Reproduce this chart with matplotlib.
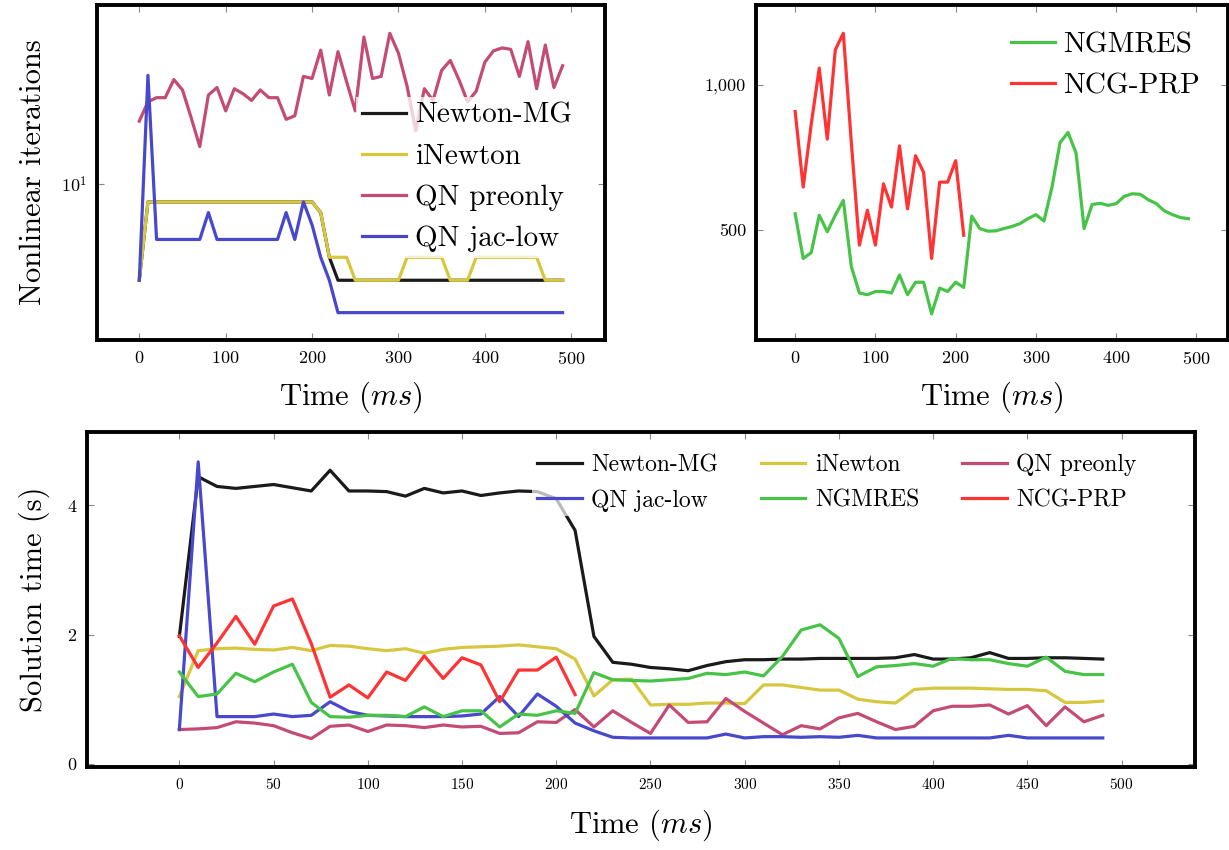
import matplotlib
matplotlib.use('Agg')
import matplotlib.pyplot as plt
import numpy as np

plt.rcParams['font.family'] = 'cmr10'
plt.rcParams['mathtext.fontset'] = 'cm'
plt.rcParams['axes.formatter.use_mathtext'] = True
plt.rcParams['axes.unicode_minus'] = False

# time stamps (ms)
t = list(range(0, 500, 10))

# --- nonlinear iterations (top left, log scale)
it_newton = [3, 8, 8, 8, 8, 8, 8, 8, 8, 8, 8, 8, 8, 8, 8, 8, 8, 8, 8, 8, 8, 7, 4,
             3, 3, 3, 3, 3, 3, 3, 3, 3, 3, 3, 3, 3, 3, 3, 3, 3, 3, 3, 3, 3, 3, 3, 3, 3, 3, 3]
it_inewton = [3, 8, 8, 8, 8, 8, 8, 8, 8, 8, 8, 8, 8, 8, 8, 8, 8, 8, 8, 8, 8, 7, 4,
              4, 4, 3, 3, 3, 3, 3, 3, 4, 4, 4, 4, 4, 3, 3, 3, 4, 4, 4, 4, 4, 4, 4, 4, 3, 3, 3]
it_qn_pre = [22, 28, 29.5, 29.5, 37, 32.5, 23, 16, 30.5, 33.5, 25, 33, 31, 28.5, 32.5,
             29.5, 29.5, 22.5, 23.5, 38.5, 37.5, 53.5, 30.5, 52.5, 36, 25, 63, 37.5, 38.5,
             66, 51.5, 34, 19.5, 33, 28.5, 41.5, 47, 37, 28, 32, 46, 53, 55, 54, 38.5,
             59.5, 33, 57, 33.5, 44]
it_qn_jac = [3, 39, 5, 5, 5, 5, 5, 5, 7, 5, 5, 5, 5, 5, 5, 5, 5, 7, 5, 8, 6, 4, 3,
             2, 2, 2, 2, 2, 2, 2, 2, 2, 2, 2, 2, 2, 2, 2, 2, 2, 2, 2, 2, 2, 2, 2, 2, 2, 2, 2]

# --- nonlinear iterations (top right)
it_ngmres = [555, 401, 421, 550, 493, 550, 601, 373, 282, 276, 287, 287, 282, 344, 276,
             319, 319, 210, 299, 287, 319, 301, 547, 504, 495, 496, 504, 511, 521, 538,
             552, 530, 647, 800, 835, 764, 504, 587, 591, 584, 590, 615, 624, 622, 603,
             590, 565, 552, 542, 538]
it_ncg = [907, 647, 863, 1057, 812, 1120, 1177, 800, 447, 567, 447, 658, 578, 789, 572,
          755, 698, 401, 664, 664, 738, 481]

# --- solution time in seconds (bottom)
st_newton = [1.97, 4.44, 4.29, 4.26, 4.29, 4.32, 4.27, 4.22, 4.54, 4.22, 4.22, 4.21, 4.14,
             4.26, 4.19, 4.22, 4.15, 4.19, 4.22, 4.21, 4.10, 3.61, 1.97, 1.57, 1.54, 1.49,
             1.47, 1.44, 1.52, 1.58, 1.61, 1.61, 1.62, 1.62, 1.63, 1.63, 1.63, 1.63, 1.64,
             1.69, 1.62, 1.62, 1.64, 1.72, 1.63, 1.63, 1.64, 1.64, 1.63, 1.62]
st_inewton = [1.04, 1.75, 1.78, 1.79, 1.77, 1.76, 1.80, 1.75, 1.83, 1.82, 1.78, 1.75, 1.78,
              1.71, 1.77, 1.80, 1.81, 1.82, 1.84, 1.81, 1.78, 1.62, 1.05, 1.30, 1.31, 0.91,
              0.92, 0.92, 0.94, 0.94, 0.93, 1.22, 1.22, 1.18, 1.14, 1.14, 1.00, 0.96, 0.94,
              1.15, 1.17, 1.17, 1.17, 1.16, 1.15, 1.15, 1.13, 0.95, 0.95, 0.97]
st_qn_pre = [0.53, 0.54, 0.56, 0.65, 0.63, 0.59, 0.48, 0.39, 0.58, 0.60, 0.50, 0.60, 0.59,
             0.56, 0.60, 0.57, 0.58, 0.47, 0.48, 0.65, 0.64, 0.84, 0.57, 0.82, 0.64, 0.47,
             0.91, 0.64, 0.65, 1.01, 0.81, 0.63, 0.45, 0.59, 0.54, 0.71, 0.78, 0.65, 0.53,
             0.58, 0.82, 0.89, 0.89, 0.91, 0.77, 0.90, 0.59, 0.88, 0.65, 0.75]
st_qn_jac = [0.53, 4.67, 0.73, 0.73, 0.73, 0.77, 0.73, 0.75, 0.96, 0.81, 0.75, 0.74, 0.73,
             0.73, 0.73, 0.74, 0.77, 1.04, 0.73, 1.08, 0.89, 0.63, 0.51, 0.41, 0.40, 0.40,
             0.40, 0.40, 0.40, 0.46, 0.40, 0.42, 0.42, 0.41, 0.42, 0.41, 0.44, 0.40, 0.40,
             0.40, 0.40, 0.40, 0.40, 0.40, 0.44, 0.40, 0.40, 0.40, 0.40, 0.40]
st_ngmres = [1.42, 1.04, 1.08, 1.40, 1.27, 1.42, 1.54, 0.95, 0.73, 0.72, 0.75, 0.75, 0.73,
             0.88, 0.73, 0.82, 0.82, 0.57, 0.77, 0.75, 0.82, 0.78, 1.41, 1.30, 1.29, 1.28,
             1.30, 1.32, 1.40, 1.38, 1.42, 1.36, 1.66, 2.07, 2.15, 1.94, 1.35, 1.50, 1.52,
             1.55, 1.51, 1.63, 1.61, 1.61, 1.55, 1.51, 1.65, 1.43, 1.38, 1.38]
st_ncg = [1.98, 1.49, 1.87, 2.28, 1.85, 2.44, 2.55, 1.86, 1.03, 1.22, 1.02, 1.42, 1.29,
          1.67, 1.32, 1.64, 1.53, 0.96, 1.45, 1.45, 1.65, 1.07]

c_newton = '#1a1a1a'
c_inewton = '#d6c73f'
c_qn_pre = '#c44b76'
c_qn_jac = '#4848cc'
c_ngmres = '#47c447'
c_ncg = '#ff3333'
lw = 2.3


def style_axes(ax, xsize=13):
    for s in ax.spines.values():
        s.set_linewidth(2.8)
        s.set_color('black')
    ax.tick_params(which='both', direction='in', length=5, width=0.8, color='#888888',
                   top=True, right=True, labelsize=13, pad=7)
    ax.tick_params(axis='x', labelsize=xsize)
    ax.set_xlim(-49, 539)


leg_kw = dict(frameon=True, facecolor='white', edgecolor='none', fancybox=False,
              borderpad=0.2)

fig = plt.figure(figsize=(12.29, 8.5), dpi=100)

# top left
ax1 = fig.add_axes([0.0789, 0.6, 0.4133, 0.394])
ax1.plot(t, it_newton, color=c_newton, lw=lw, label='Newton-MG')
ax1.plot(t, it_inewton, color=c_inewton, lw=lw, label='iNewton')
ax1.plot(t, it_qn_pre, color=c_qn_pre, lw=lw, label='QN preonly')
ax1.plot(t, it_qn_jac, color=c_qn_jac, lw=lw, label='QN jac-low')
ax1.set_yscale('log')
ax1.set_ylim(1.42, 94)
ax1.set_yticks([10])
ax1.set_yticklabels([r'$10^1$'])
ax1.yaxis.set_minor_locator(matplotlib.ticker.NullLocator())
ax1.set_xticks([0, 100, 200, 300, 400, 500])
style_axes(ax1)
ax1.set_xlabel(r'Time ($ms$)', fontsize=22, labelpad=9)
ax1.set_ylabel('Nonlinear iterations', fontsize=22, labelpad=10)
ax1.legend(loc='upper right', bbox_to_anchor=(0.975, 0.77), fontsize=21,
           framealpha=0.75, handlelength=1.5, handletextpad=0.3, labelspacing=0.5,
           **leg_kw)

# top right
ax2 = fig.add_axes([0.615, 0.6, 0.384, 0.394])
ax2.plot(t, it_ngmres, color=c_ngmres, lw=lw, label='NGMRES')
ax2.plot(t[:len(it_ncg)], it_ncg, color=c_ncg, lw=lw, label='NCG-PRP')
ax2.set_ylim(120, 1274)
ax2.set_yticks([500, 1000])
ax2.set_yticklabels(['500', '1,000'])
ax2.set_xticks([0, 100, 200, 300, 400, 500])
style_axes(ax2)
ax2.set_xlabel(r'Time ($ms$)', fontsize=22, labelpad=9)
ax2.legend(loc='upper right', bbox_to_anchor=(0.985, 0.98), fontsize=21,
           framealpha=0.75, handlelength=1.5, handletextpad=0.3, labelspacing=0.5,
           **leg_kw)

# bottom
ax3 = fig.add_axes([0.0708, 0.0976, 0.9016, 0.394])
ax3.plot(t, st_newton, color=c_newton, lw=lw, label='Newton-MG')
ax3.plot(t, st_inewton, color=c_inewton, lw=lw, label='iNewton')
ax3.plot(t, st_qn_pre, color=c_qn_pre, lw=lw, label='QN preonly')
ax3.plot(t, st_qn_jac, color=c_qn_jac, lw=lw, label='QN jac-low')
ax3.plot(t, st_ngmres, color=c_ngmres, lw=lw, label='NGMRES')
ax3.plot(t[:len(st_ncg)], st_ncg, color=c_ncg, lw=lw, label='NCG-PRP')
ax3.set_ylim(-0.05, 5.13)
ax3.set_yticks([0, 2, 4])
ax3.set_xticks(list(range(0, 501, 50)))
style_axes(ax3, xsize=11)
ax3.set_xlabel(r'Time ($ms$)', fontsize=22, labelpad=11)
ax3.set_ylabel('Solution time (s)', fontsize=22, labelpad=12)
# legend filled row by row (matplotlib fills column by column)
h, l = ax3.get_legend_handles_labels()
order = [0, 3, 1, 4, 2, 5]
ax3.legend([h[i] for i in order], [l[i] for i in order], loc='upper right',
           bbox_to_anchor=(0.962, 0.985), ncol=3, fontsize=17, framealpha=0.7,
           handlelength=1.9, handletextpad=0.4, labelspacing=0.55, columnspacing=1.8,
           **leg_kw)

fig.savefig('out.png', dpi=100)
